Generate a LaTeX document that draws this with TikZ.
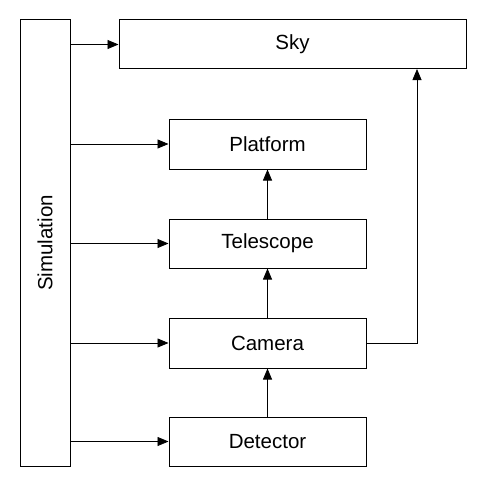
\documentclass[tikz,border=0pt]{standalone}
\usepackage{fontspec}
\setmainfont{Liberation Sans}
\usetikzlibrary{arrows.meta}

\tikzset{
	block/.style={draw, line width=1pt, inner sep=0pt, minimum width=197pt, minimum height=49pt, font=\fontsize{20.5}{24}\selectfont},
	link/.style={line width=0.8pt, -{Triangle[length=11pt, width=9pt]}}
}

\begin{document}
\begin{tikzpicture}[x=1pt, y=-1pt]
	\useasboundingbox (0,0) rectangle (487,487);
	
	\node [block, minimum width=50pt, minimum height=446pt] (sim) at (45,243) {};
	\node [rotate=90, font=\fontsize{20.5}{24}\selectfont] (simtext) at (sim.center) {Simulation};
	\node [block, minimum width=347pt] (sky) at (292.5,44.5) {Sky};
	\node [block, minimum height=50pt] (platform) at (267.5,144) {Platform};
	\node [block] (telescope) at (267.5,243.5) {Telescope};
	\node [block, minimum height=50pt] (camera) at (267.5,343) {Camera};
	\node [block] (detector) at (267.5,441.5) {Detector};
	\coordinate (skyin) at (417,69);
	
	% simulation feeds every stage
	\foreach \n in {sky, platform, telescope, camera, detector}
		\draw [link] (sim.east |- \n.west) -- (\n.west);
	
	% optical chain
	\draw [link] (detector) -- (camera);
	\draw [link] (camera) -- (telescope);
	\draw [link] (telescope) -- (platform);
	\draw [link] (camera.east) -| (skyin);
	
\end{tikzpicture}
\end{document}
